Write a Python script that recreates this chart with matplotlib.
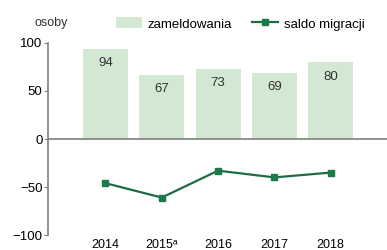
import numpy as np
import matplotlib
matplotlib.use('Agg')
import matplotlib.pyplot as plt

years = ['2014', '2015ᵃ', '2016', '2017', '2018']
zameldowania = [94, 67, 73, 69, 80]
saldo = [-46, -61, -33, -40, -35]

plt.rcParams['font.family'] = ['Liberation Sans', 'DejaVu Sans']

fig = plt.figure(figsize=(3.87, 2.5), dpi=100)
ax = fig.add_axes([0.124, 0.06, 0.876, 0.768])

x = np.arange(len(years))
bars = ax.bar(x, zameldowania, width=0.8, color='#d3e8d3', edgecolor='none',
              label='zameldowania', zorder=1)
for xi, v in zip(x, zameldowania):
    ax.text(xi, v - 15, str(v), ha='center', va='center', fontsize=9.5, color='#333333')

line, = ax.plot(x, saldo, color='#1f6b45', lw=1.6, marker='s', ms=5,
                markerfacecolor='#1a7a48', markeredgecolor='#1a7a48',
                label='saldo migracji', zorder=3)

ax.axhline(0, color='#7f7f7f', lw=1.2, zorder=2)

ax.set_xlim(-1.02, 5.0)
ax.set_ylim(-100, 100)
ax.set_yticks([-100, -50, 0, 50, 100])
ax.set_xticks(x)
ax.set_xticklabels(years)
ax.tick_params(axis='y', labelsize=9.5, length=3, color='#7f7f7f', pad=1)
ax.tick_params(axis='x', labelsize=9, length=0, pad=3)
for s in ['top', 'right', 'bottom']:
    ax.spines[s].set_visible(False)
ax.spines['left'].set_color('#7f7f7f')
ax.spines['left'].set_linewidth(1.2)

fig.text(0.09, 0.908, 'osoby', fontsize=9, ha='left', va='center', color='#333333')
fig.legend([bars, line], ['zameldowania', 'saldo migracji'],
           loc='center left', bbox_to_anchor=(0.30, 0.904), bbox_transform=fig.transFigure,
           ncol=2, frameon=False, fontsize=9.5, handlelength=2.0, columnspacing=1.5,
           borderaxespad=0, borderpad=0, handletextpad=0.4, handleheight=0.9)

fig.savefig('out.png', dpi=100)
